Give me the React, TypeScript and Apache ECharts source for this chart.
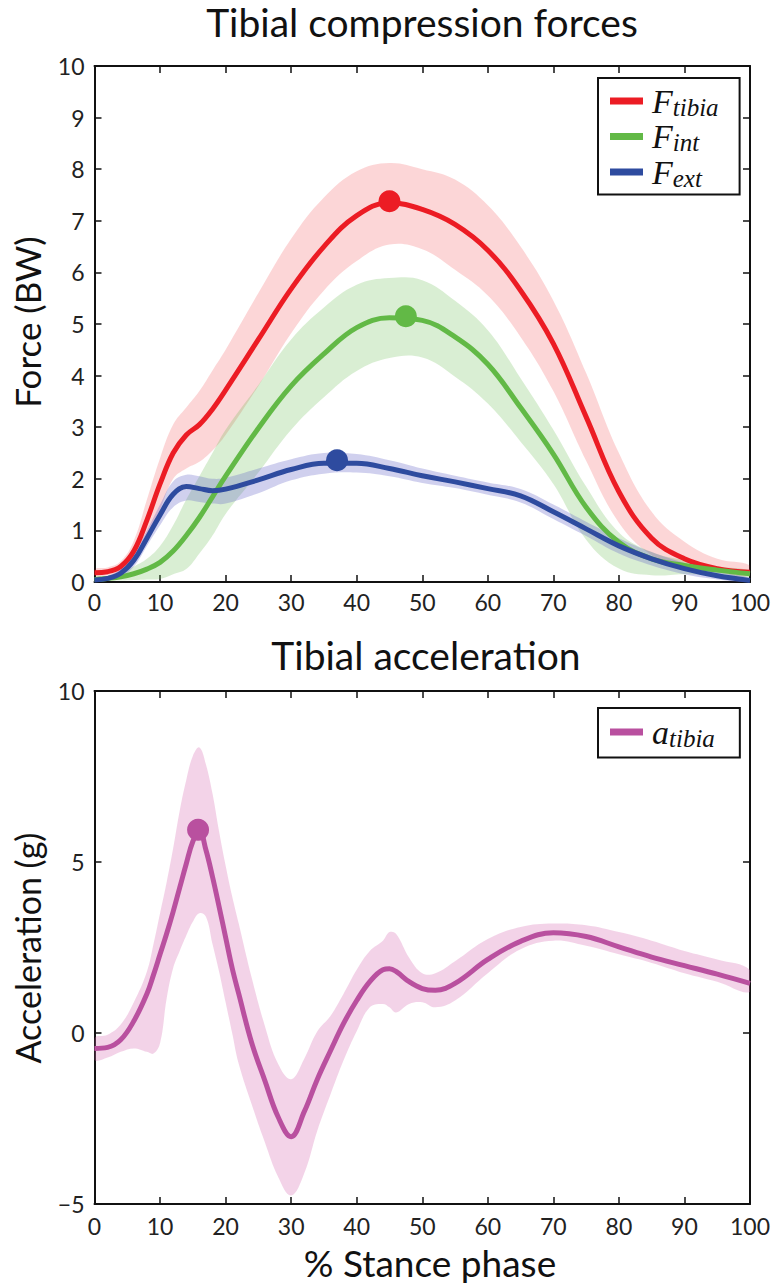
import React, { useEffect, useRef } from 'react';
import * as echarts from 'echarts';

// ---------- Top panel: Tibial compression forces ----------
const X_FORCE = [0, 2, 4, 6, 8, 10, 12, 14, 16, 18, 20, 25, 30, 35, 40, 45, 50, 55, 60, 65, 70, 75, 80, 85, 90, 95, 100];

const F_TIBIA_MEAN = [0.18, 0.2, 0.3, 0.6, 1.2, 1.9, 2.5, 2.85, 3.05, 3.35, 3.72, 4.7, 5.68, 6.5, 7.1, 7.35, 7.22, 6.93, 6.43, 5.65, 4.62, 3.2, 1.75, 0.85, 0.45, 0.26, 0.19];
const F_TIBIA_UPPER = [0.25, 0.28, 0.4, 0.8, 1.6, 2.4, 3.05, 3.38, 3.7, 4.1, 4.5, 5.6, 6.65, 7.45, 7.96, 8.12, 8.0, 7.8, 7.3, 6.5, 5.45, 4.05, 2.5, 1.36, 0.78, 0.45, 0.32];
const F_TIBIA_LOWER = [0.12, 0.13, 0.2, 0.45, 0.85, 1.4, 2.0, 2.2, 2.33, 2.55, 2.85, 3.8, 4.82, 5.65, 6.22, 6.54, 6.45, 6.05, 5.55, 4.75, 3.7, 2.35, 1.15, 0.52, 0.29, 0.19, 0.12];

const F_INT_MEAN = [0.05, 0.07, 0.1, 0.16, 0.25, 0.38, 0.6, 0.9, 1.25, 1.65, 2.05, 2.98, 3.8, 4.42, 4.93, 5.12, 5.07, 4.75, 4.22, 3.38, 2.48, 1.45, 0.77, 0.45, 0.32, 0.23, 0.16];
const F_INT_UPPER = [0.1, 0.12, 0.18, 0.3, 0.45, 0.7, 1.1, 1.6, 2.05, 2.5, 2.95, 3.82, 4.7, 5.32, 5.76, 5.89, 5.85, 5.45, 4.88, 3.95, 2.95, 1.85, 0.96, 0.58, 0.42, 0.3, 0.22];
const F_INT_LOWER = [0.0, 0.02, 0.03, 0.04, 0.05, 0.06, 0.15, 0.25, 0.55, 0.9, 1.32, 2.12, 2.95, 3.58, 4.09, 4.34, 4.35, 3.98, 3.46, 2.72, 1.9, 0.82, 0.26, 0.13, 0.15, 0.12, 0.1];

const F_EXT_MEAN = [0.04, 0.07, 0.17, 0.42, 0.85, 1.3, 1.7, 1.85, 1.81, 1.77, 1.8, 1.98, 2.18, 2.3, 2.3, 2.2, 2.06, 1.94, 1.81, 1.67, 1.36, 1.03, 0.7, 0.45, 0.26, 0.12, 0.03];
const F_EXT_UPPER = [0.08, 0.12, 0.25, 0.55, 1.0, 1.5, 1.95, 2.08, 2.05, 2.0, 2.02, 2.2, 2.38, 2.5, 2.48, 2.36, 2.2, 2.06, 1.93, 1.8, 1.5, 1.17, 0.85, 0.58, 0.37, 0.2, 0.08];
const F_EXT_LOWER = [0.0, 0.03, 0.1, 0.3, 0.7, 1.1, 1.45, 1.58, 1.55, 1.52, 1.52, 1.72, 1.97, 2.1, 2.12, 2.05, 1.92, 1.82, 1.69, 1.54, 1.22, 0.89, 0.55, 0.32, 0.15, 0.05, 0.0];

const PEAK_TIBIA = [45, 7.38];
const PEAK_INT = [47.5, 5.15];
const PEAK_EXT = [37, 2.36];

// ---------- Bottom panel: Tibial acceleration ----------
const X_ACC = [0, 2, 4, 6, 8, 9, 10, 11, 12, 13, 14, 15, 16, 17, 18, 19, 20, 21, 22, 24, 26, 28, 30, 32, 34, 36, 38, 40, 42, 44, 45, 46, 48, 50, 52, 55, 60, 65, 70, 75, 80, 85, 90, 95, 100];
const A_MEAN = [-0.45, -0.42, -0.2, 0.35, 1.15, 1.7, 2.3, 2.9, 3.55, 4.25, 4.95, 5.6, 5.92, 5.35, 4.57, 3.7, 2.8, 1.9, 1.15, -0.3, -1.4, -2.45, -3.03, -2.3, -1.35, -0.52, 0.28, 0.95, 1.5, 1.85, 1.88, 1.8, 1.5, 1.3, 1.25, 1.45, 2.15, 2.68, 2.93, 2.82, 2.52, 2.22, 1.97, 1.72, 1.45];
const A_UPPER = [-0.15, -0.05, 0.25, 0.9, 1.8, 2.6, 3.5, 4.4, 5.4, 6.5, 7.4, 8.1, 8.35, 7.85, 7.0, 5.9, 4.9, 4.0, 3.2, 1.6, 0.2, -0.9, -1.35, -0.75, 0.05, 0.5, 1.15, 1.85, 2.4, 2.7, 2.95, 2.9, 2.2, 1.75, 1.75, 2.1, 2.75, 3.1, 3.2, 3.15, 2.95, 2.7, 2.4, 2.15, 1.84];
const A_LOWER = [-0.79, -0.72, -0.55, -0.45, -0.55, -0.6, -0.3, 1.0, 1.9, 2.4, 2.85, 3.25, 3.5, 3.4, 2.6, 1.8, 0.9, 0.0, -0.9, -2.1, -3.2, -4.2, -4.75, -4.1, -2.85, -1.8, -0.8, 0.05, 0.75, 0.85, 0.75, 0.6, 0.85, 0.9, 0.75, 0.95, 1.75, 2.45, 2.7, 2.55, 2.3, 2.05, 1.75, 1.5, 1.2];
const PEAK_ACC = [15.8, 5.94];

const X_TICKS = { min: 0, max: 100, interval: 10 };
const FORCE_TICKS = { min: 0, max: 10, interval: 1 };
const ACC_TICKS = { min: -5, max: 10, interval: 5 };

const C_RED = '#ec1c24';
const C_GREEN = '#62b946';
const C_BLUE = '#2e4b9f';
const C_MAG = '#b9509f';

const FONT = 'Lato, "Open Sans", sans-serif';
const SERIF = '"Liberation Serif", "DejaVu Serif", serif';
const SMOOTH = 0.4;

function pairs(xs: number[], ys: number[]) {
  return xs.map((x, i) => [x, ys[i]]);
}

// Shaded band between lower and upper, drawn through the axis scales (api.coord).
function band(id: string, xs: number[], lower: number[], upper: number[], color: string, gi: number) {
  return {
    type: 'custom',
    name: id + ' band',
    xAxisIndex: gi * 2,
    yAxisIndex: gi * 2,
    silent: true,
    z: 1,
    data: xs.map((x, i) => [x, lower[i], upper[i]]),
    encode: { x: 0, y: [1, 2] },
    renderItem: (params: any, api: any) => {
      if (params.dataIndex !== 0) return null;
      const top = xs.map((x, i) => api.coord([x, upper[i]]));
      const bot = xs.map((x, i) => api.coord([x, lower[i]])).reverse();
      const cs = params.coordSys;
      return {
        type: 'polygon',
        shape: { points: top.concat(bot), smooth: SMOOTH },
        style: { fill: color, stroke: 'none' },
        clipPath: { type: 'rect', shape: { x: cs.x, y: cs.y, width: cs.width, height: cs.height } },
      };
    },
  };
}

function meanLine(name: string, xs: number[], ys: number[], color: string, gi: number) {
  return {
    type: 'line',
    name,
    xAxisIndex: gi * 2,
    yAxisIndex: gi * 2,
    data: pairs(xs, ys),
    smooth: SMOOTH,
    showSymbol: false,
    symbol: 'none',
    z: 3,
    itemStyle: { color },
    lineStyle: { color, width: 5 },
  };
}

function peak(name: string, p: number[], color: string, gi: number) {
  return {
    type: 'scatter',
    name,
    xAxisIndex: gi * 2,
    yAxisIndex: gi * 2,
    data: [p],
    symbol: 'circle',
    symbolSize: 22,
    z: 4,
    itemStyle: { color, opacity: 1 },
  };
}

const axisLine = { show: true, onZero: false, lineStyle: { color: '#111', width: 2 } };
const axisTick = { show: true, inside: true, length: 7, lineStyle: { color: '#111', width: 1.5 } };
const labelStyle = { fontSize: 23, fontFamily: FONT, color: '#222' };
const fmt = (v: number) => (v < 0 ? '\u2212' + Math.abs(v) : String(v));

function xAxes(gi: number, margin: number) {
  return [
    {
      gridIndex: gi, type: 'value', position: 'bottom', ...X_TICKS,
      axisLine, axisTick, splitLine: { show: false },
      axisLabel: { ...labelStyle, margin, formatter: fmt },
    },
    {
      gridIndex: gi, type: 'value', position: 'top', ...X_TICKS,
      axisLine, axisTick, splitLine: { show: false }, axisLabel: { show: false },
    },
  ];
}

function yAxes(gi: number, ticks: any) {
  return [
    {
      gridIndex: gi, type: 'value', position: 'left', ...ticks,
      axisLine, axisTick, splitLine: { show: false },
      axisLabel: { ...labelStyle, margin: 10, formatter: fmt },
    },
    {
      gridIndex: gi, type: 'value', position: 'right', ...ticks,
      axisLine, axisTick, splitLine: { show: false }, axisLabel: { show: false },
    },
  ];
}

const richLegend = {
  F: { fontFamily: SERIF, fontStyle: 'italic', fontSize: 34, lineHeight: 37, color: '#111', padding: [0, 0, 0, 4] },
  s: { fontFamily: SERIF, fontStyle: 'italic', fontSize: 25, lineHeight: 18, verticalAlign: 'bottom', color: '#111' },
};

const LEGEND_SUB: Record<string, string[]> = {
  F_tibia: ['F', 'tibia'],
  F_int: ['F', 'int'],
  F_ext: ['F', 'ext'],
  a_tibia: ['a', 'tibia'],
};

const legendFormatter = (name: string) => {
  const [m, s] = LEGEND_SUB[name];
  return `{F|${m}}{s|${s}}`;
};

const option: any = {
  animation: false,
  backgroundColor: '#fff',
  grid: [
    { left: 94.5, top: 66, width: 655.5, height: 516 },
    { left: 94.5, top: 691, width: 655.5, height: 513 },
  ],
  xAxis: [...xAxes(0, 8), ...xAxes(1, 10)],
  yAxis: [...yAxes(0, FORCE_TICKS), ...yAxes(1, ACC_TICKS)],
  legend: [
    {
      data: ['F_tibia', 'F_int', 'F_ext'],
      orient: 'vertical', left: 598, top: 78,
      padding: [6, 21, 4, 12], itemGap: 0,
      itemWidth: 33, itemHeight: 7, icon: 'rect',
      borderColor: '#111', borderWidth: 2, backgroundColor: '#fff',
      selectedMode: false,
      formatter: legendFormatter,
      textStyle: { rich: richLegend },
    },
    {
      data: ['a_tibia'],
      orient: 'vertical', left: 598, top: 708,
      padding: [7, 25, 7, 12], itemGap: 0,
      itemWidth: 33, itemHeight: 7, icon: 'rect',
      borderColor: '#111', borderWidth: 2, backgroundColor: '#fff',
      selectedMode: false,
      formatter: legendFormatter,
      textStyle: { rich: richLegend },
    },
  ],
  graphic: [
    { type: 'text', x: 422, y: 22, style: { text: 'Tibial compression forces', fontFamily: FONT, fontSize: 39, fill: '#111', align: 'center', verticalAlign: 'middle' } },
    { type: 'text', x: 426, y: 655, style: { text: 'Tibial acceleration', fontFamily: FONT, fontSize: 39, fill: '#111', align: 'center', verticalAlign: 'middle' } },
    { type: 'text', x: 430, y: 1262, style: { text: '% Stance phase', fontFamily: FONT, fontSize: 37, fill: '#111', align: 'center', verticalAlign: 'middle' } },
    { type: 'text', x: 27, y: 322, rotation: Math.PI / 2, style: { text: 'Force (BW)', fontFamily: FONT, fontSize: 35, fill: '#111', align: 'center', verticalAlign: 'middle' } },
    { type: 'text', x: 27, y: 948, rotation: Math.PI / 2, style: { text: 'Acceleration (g)', fontFamily: FONT, fontSize: 34, fill: '#111', align: 'center', verticalAlign: 'middle' } },
  ],
  series: [
    band('F_tibia', X_FORCE, F_TIBIA_LOWER, F_TIBIA_UPPER, 'rgba(237,28,36,0.18)', 0),
    band('F_int', X_FORCE, F_INT_LOWER, F_INT_UPPER, 'rgba(98,185,70,0.24)', 0),
    band('F_ext', X_FORCE, F_EXT_LOWER, F_EXT_UPPER, 'rgba(100,100,200,0.3)', 0),
    meanLine('F_tibia', X_FORCE, F_TIBIA_MEAN, C_RED, 0),
    meanLine('F_int', X_FORCE, F_INT_MEAN, C_GREEN, 0),
    meanLine('F_ext', X_FORCE, F_EXT_MEAN, C_BLUE, 0),
    peak('F_tibia peak', PEAK_TIBIA, C_RED, 0),
    peak('F_int peak', PEAK_INT, C_GREEN, 0),
    peak('F_ext peak', PEAK_EXT, C_BLUE, 0),
    band('a_tibia', X_ACC, A_LOWER, A_UPPER, 'rgba(214,110,180,0.3)', 1),
    meanLine('a_tibia', X_ACC, A_MEAN, C_MAG, 1),
    peak('a_tibia peak', PEAK_ACC, C_MAG, 1),
  ],
};

export default function App() {
  const ref = useRef<HTMLDivElement>(null);
  useEffect(() => {
    if (!ref.current) return;
    const chart = echarts.init(ref.current, null, { renderer: 'svg' });
    chart.setOption(option);
    return () => chart.dispose();
  }, []);
  return <div ref={ref} style={{ position: 'absolute', left: 0, top: 0, width: 777, height: 1284 }} />;
}
